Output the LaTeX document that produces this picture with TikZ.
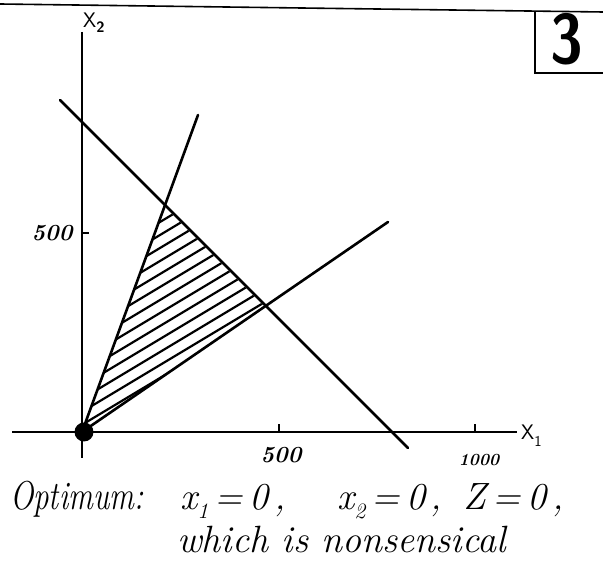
\documentclass[tikz,border=0pt]{standalone}
\newcommand{\mysub}[1]{\raisebox{-0.22em}{\fontsize{22}{24}\selectfont #1}}
\begin{document}
\begin{tikzpicture}[x=1pt,y=-1pt,
  ln/.style={line width=2.6pt,line cap=round},
  ax/.style={line width=2.6pt},
  hatch/.style={line width=2.2pt,line cap=round},
  num/.style={font=\fontsize{23}{25}\selectfont\bfseries\itshape,inner sep=0pt},
  small/.style={font=\fontsize{17}{19}\selectfont\bfseries\itshape,inner sep=0pt},
  axl/.style={font=\fontsize{21}{24}\selectfont\sffamily,inner sep=0pt,anchor=base west},
  hand/.style={font=\fontsize{38}{42}\selectfont\itshape,inner sep=0pt,anchor=base west},
  handopt/.style={font=\fontsize{31}{34}\selectfont\itshape,inner sep=0pt,anchor=base west}]
\useasboundingbox (0,0) rectangle (603,577);
% frame lines at top
\coordinate (tl) at (0,4);
\coordinate (tr) at (603,12);
\draw[line width=1.6pt] (tl) -- (tr);
\coordinate (bx1) at (535,11);
\coordinate (bx2) at (535,73);
\coordinate (bx3) at (603,73);
\draw[line width=2pt] (bx1) -- (bx2) -- (bx3);
\node[font=\fontsize{70}{72}\selectfont\bfseries\sffamily,inner sep=0pt] (three) at (567,39) {\scalebox{0.85}[1]{3}};
% axes
\coordinate (O) at (82,432);
\coordinate (xl) at (12,432);
\coordinate (xr) at (517,432);
\coordinate (yt) at (82,32);
\coordinate (yb) at (82,458);
\draw[ax] (xl) -- (xr);
\draw[ax] (yt) -- (yb);
\node[axl] (x1) at (521,440) {X\raisebox{-6pt}{\fontsize{15}{16}\selectfont 1}};
\node[axl] (x2) at (83,28) {X\raisebox{-5pt}{\fontsize{15}{16}\selectfont\bfseries 2}};
% ticks
\coordinate (t1a) at (279,432); \coordinate (t1b) at (279,424);
\coordinate (t2a) at (475,432); \coordinate (t2b) at (475,424);
\coordinate (t3a) at (82,233); \coordinate (t3b) at (89,233);
\draw[ax] (t1a) -- (t1b);
\draw[ax] (t2a) -- (t2b);
\draw[ax] (t3a) -- (t3b);
\node[num] (l500x) at (281,455) {500};
\node[small] (l1000) at (479,460) {1000};
\node[num] (l500y) at (52,233) {500};
% constraint lines
\coordinate (A) at (165,207);
\coordinate (B) at (265,307);
\coordinate (p1) at (198,115);
\coordinate (p2) at (388,222);
\coordinate (p3a) at (60,100);
\coordinate (p3b) at (408,448);
\draw[ln] (O) -- (p1);
\draw[ln] (O) -- (p2);
\draw[ln] (p3a) -- (p3b);
% hatching
\begin{scope}
  \clip (O) -- (A) -- (B) -- cycle;
  \foreach \c in {318,331,...,474} {
    \draw[hatch] (60,\c-36) -- (400,\c-240);
  }
\end{scope}
% origin dot
\fill (84,432) circle (9.5);
% text
\node[handopt] (opt) at (10,510) {\scalebox{1}[1.3]{Optimum:}};
\node[hand] (eq1) at (180,510) {x\mysub{1}\,=\,0\,,};
\node[hand] (eq2) at (337,510) {x\mysub{2}\,=\,0};
\node[hand] (cm2) at (430,510) {,};
\node[hand] (eq3) at (463,510) {Z\,=\,0\,,};
\node[hand] (t2) at (177,552) {which is nonsensical};
\end{tikzpicture}
\end{document}
